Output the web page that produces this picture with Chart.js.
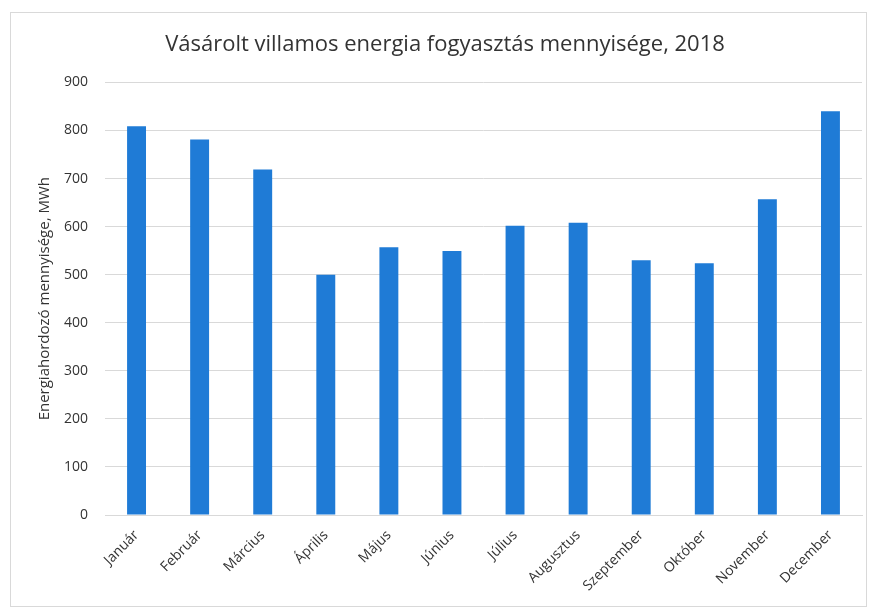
<!DOCTYPE html>
<html>
<head>
<meta charset="utf-8">
<script src="https://cdn.jsdelivr.net/npm/chart.js@4/dist/chart.umd.min.js"></script>
<style>
  html, body { margin: 0; padding: 0; background: #fff; }
  #wrap { width: 871px; height: 613px; position: relative; }
</style>
</head>
<body>
<div id="wrap"><canvas id="chart"></canvas></div>
<script>
// adatok
const months = ['Január', 'Február', 'Március', 'Április', 'Május', 'Június',
  'Július', 'Augusztus', 'Szeptember', 'Október', 'November', 'December'];
const consumption = [809, 781, 719, 500, 557, 549, 602, 608, 530, 524, 657, 840];
const yTicks = [0, 100, 200, 300, 400, 500, 600, 700, 800, 900];

const chartTitle = 'Vásárolt villamos energia fogyasztás mennyisége, 2018';
const yTitle = 'Energiahordozó mennyisége, MWh';

const FONT = "'Open Sans', 'Noto Sans', sans-serif";

// fehér háttér + vékony szürke keret, mint az Excel diagramterület
const frame = {
  id: 'frame',
  beforeDraw(chart) {
    const c = chart.ctx;
    c.save();
    c.fillStyle = '#fff';
    c.fillRect(0, 0, chart.width, chart.height);
    c.strokeStyle = '#d9d9d9';
    c.lineWidth = 1;
    c.strokeRect(10.5, 12.5, 856, 594);
    c.restore();
  }
};

new Chart(document.getElementById('chart'), {
  type: 'bar',
  data: {
    labels: months,
    datasets: [{
      data: consumption,
      backgroundColor: '#1f7bd6',
      borderWidth: 0,
      categoryPercentage: 1,
      barPercentage: 0.3
    }]
  },
  options: {
    responsive: true,
    maintainAspectRatio: false,
    animation: false,
    layout: { padding: { top: 24, left: 28, right: 9, bottom: 8 } },
    plugins: {
      legend: { display: false },
      tooltip: { enabled: false },
      title: {
        display: true,
        text: chartTitle,
        color: '#333',
        font: { family: FONT, size: 22, weight: 'normal' },
        padding: { top: 8, bottom: 24 }
      }
    },
    scales: {
      x: {
        grid: { display: false },
        border: { color: '#d9d9d9' },
        ticks: {
          color: '#333',
          font: { family: FONT, size: 14 },
          minRotation: 45,
          maxRotation: 45,
          padding: 4
        },
        afterFit(s) { s.height = 90; }
      },
      y: {
        min: 0,
        max: 900,
        afterBuildTicks(s) { s.ticks = yTicks.map(v => ({ value: v })); },
        grid: { color: '#d9d9d9', drawTicks: false },
        border: { display: false },
        ticks: {
          color: '#333',
          font: { family: FONT, size: 14 },
          padding: 17
        },
        title: {
          display: true,
          text: yTitle,
          color: '#333',
          font: { family: FONT, size: 15 },
          padding: { top: 8, bottom: 0 }
        },
        afterFit(s) { s.width = 77; }
      }
    }
  },
  plugins: [frame]
});
</script>
</body>
</html>
